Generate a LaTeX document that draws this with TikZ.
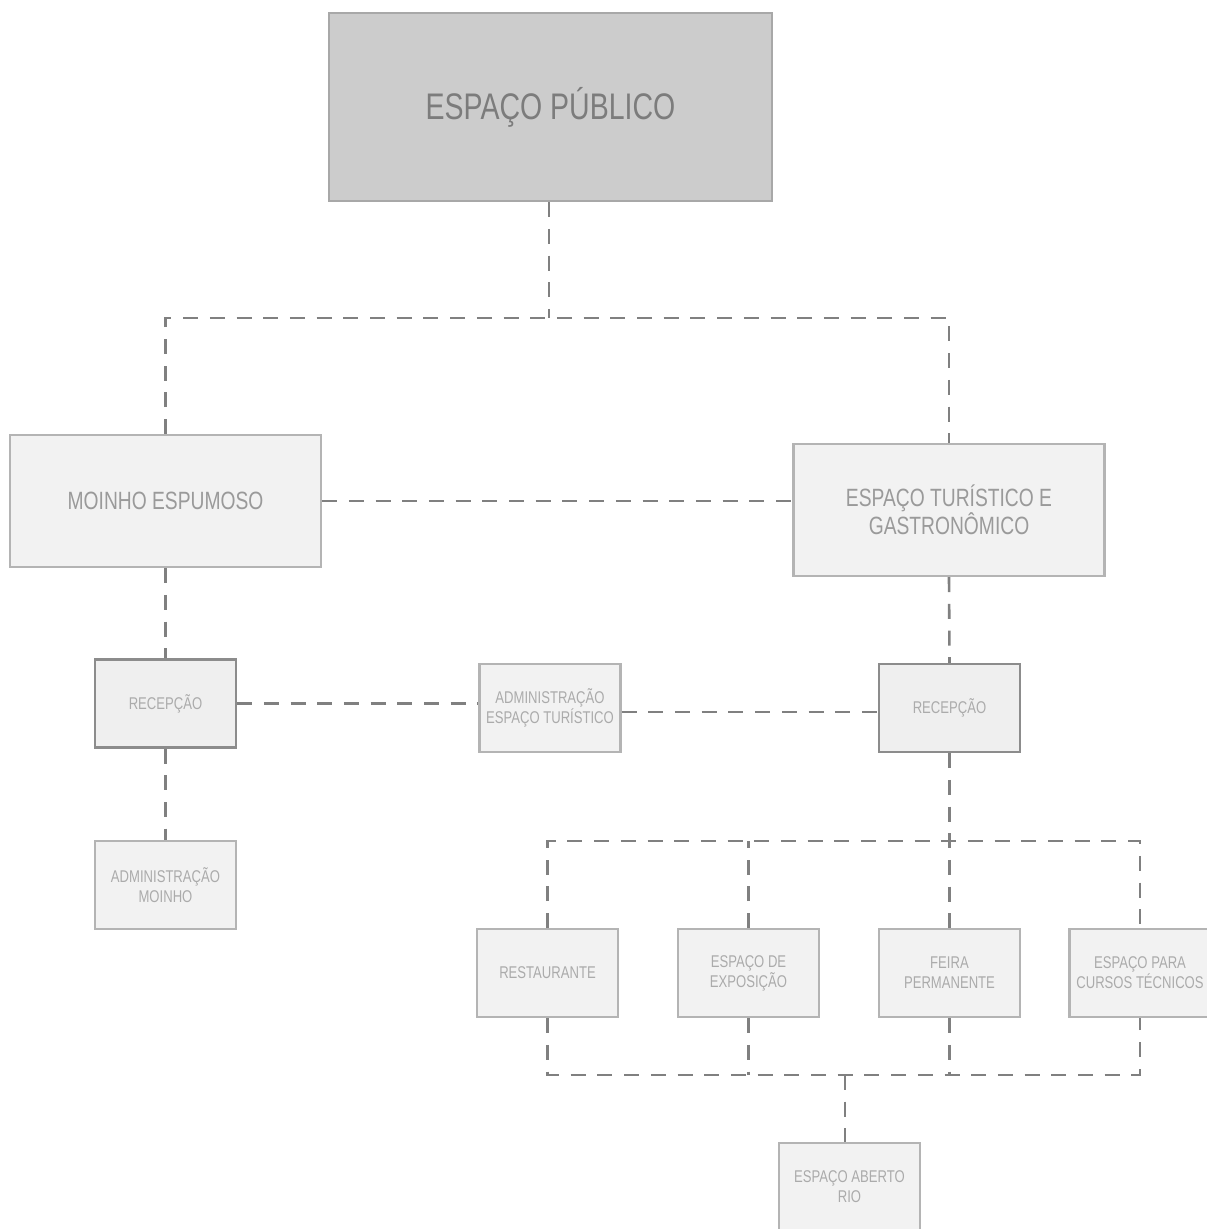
\documentclass[tikz,border=0pt]{standalone}
\usepackage{fontspec}
\setmainfont{Liberation Sans}[FakeStretch=0.77]
\begin{document}
\begin{tikzpicture}[x=1pt,y=-1pt,
  box/.style={draw=boxborder,fill=boxfill,line width=2.2pt,inner sep=0pt,align=center,text=smalltext,font=\fontsize{17}{20}\selectfont},
  smallbox/.style={box,minimum width=141pt,minimum height=88pt},
  recbox/.style={smallbox,draw=recborder,fill=recfill},
  midbox/.style={box,minimum width=311pt,minimum height=132pt,text=midtext,font=\fontsize{25}{27}\selectfont},
  link/.style={draw=linkcol,line width=2.6pt,dash pattern=on 15pt off 11.7pt}
]
\definecolor{boxborder}{HTML}{B4B4B4}
\definecolor{boxfill}{HTML}{F2F2F2}
\definecolor{recborder}{HTML}{8C8C8C}
\definecolor{recfill}{HTML}{EFEFEF}
\definecolor{topfill}{HTML}{CCCCCC}
\definecolor{topborder}{HTML}{A8A8A8}
\definecolor{linkcol}{HTML}{808080}
\definecolor{smalltext}{HTML}{ABABAB}
\definecolor{midtext}{HTML}{9A9A9A}
\definecolor{toptext}{HTML}{7C7C7C}
\clip (0,0) rectangle (1207,1229);
\fill[white] (0,0) rectangle (1207,1229);

% nodes
\node[box,draw=topborder,fill=topfill,minimum width=443pt,minimum height=188pt,text=toptext,font=\fontsize{37}{40}\selectfont] (top) at (550.5,107) {ESPAÇO PÚBLICO};
\node[midbox] (moinho) at (165.5,501) {MOINHO ESPUMOSO};
\node[midbox] (tur) at (949,510) {ESPAÇO TURÍSTICO E\\GASTRONÔMICO};
\node[recbox] (recL) at (165.5,703.5) {RECEPÇÃO};
\node[smallbox] (admT) at (550,708) {ADMINISTRAÇÃO\\ESPAÇO TURÍSTICO};
\node[recbox] (recR) at (949.5,708) {RECEPÇÃO};
\node[smallbox] (admM) at (165.5,885) {ADMINISTRAÇÃO\\MOINHO};
\node[smallbox] (rest) at (547.5,973) {RESTAURANTE};
\node[smallbox] (expo) at (748.5,973) {ESPAÇO DE\\EXPOSIÇÃO};
\node[smallbox] (feira) at (949.5,973) {FEIRA\\PERMANENTE};
\node[smallbox] (cursos) at (1140,973) {ESPAÇO PARA\\CURSOS TÉCNICOS};
\node[smallbox] (rio) at (849.5,1187) {ESPAÇO ABERTO\\RIO};

% junction coordinates
\coordinate (j1) at (549,318);
\coordinate (j2) at (949,841);
\coordinate (j3) at (845,1075);

% connectors
\draw[link] (j1 |- top.south) -- (j1);
\draw[link] (moinho.north) |- (j1) -| (tur.north);
\draw[link] (moinho.east) -- (moinho.east -| tur.west);
\draw[link] (moinho.south) -- (recL.north);
\draw[link] (tur.south) -- (recR.north);
\draw[link] (recL.east) -- (recL.east -| admT.west);
\draw[link] ([yshift=-4pt]admT.east) -- ([yshift=-4pt]admT.east -| recR.west);
\draw[link] (recL.south) -- (admM.north);
\draw[link] (recR.south) -- (feira.north);
\draw[link] (rest.north) |- (j2) -| (cursos.north);
\draw[link] (expo.north) -- (expo.north |- j2);
\draw[link] (rest.south) |- (j3) -| (cursos.south);
\draw[link] (expo.south) -- (expo.south |- j3);
\draw[link] (feira.south) -- (feira.south |- j3);
\draw[link] (j3) -- (j3 |- rio.north);
\end{tikzpicture}
\end{document}
